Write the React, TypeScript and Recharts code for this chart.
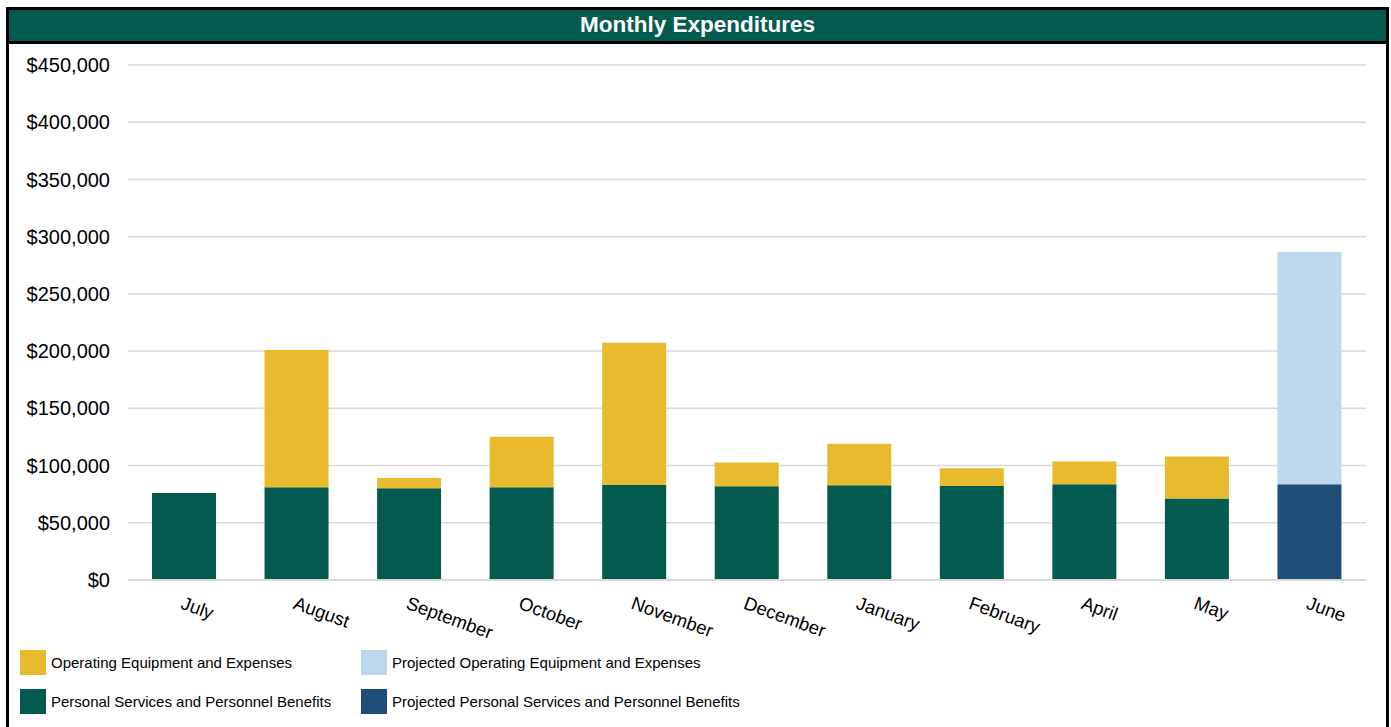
import { BarChart, Bar, XAxis, YAxis, CartesianGrid } from 'recharts';

const months = ['July', 'August', 'September', 'October', 'November', 'December', 'January', 'February', 'April', 'May', 'June'];
const personalServices = [76000, 81000, 80100, 81000, 83000, 81900, 82700, 82200, 83600, 71300, 0];
const operatingExpenses = [0, 119900, 9100, 44100, 124300, 20700, 36300, 15500, 19900, 36600, 0];
const projectedPersonal = [0, 0, 0, 0, 0, 0, 0, 0, 0, 0, 83600];
const projectedOperating = [0, 0, 0, 0, 0, 0, 0, 0, 0, 0, 203000];
const yTicks = [0, 50000, 100000, 150000, 200000, 250000, 300000, 350000, 400000, 450000];

const colors = {
  green: '#035B4F',
  gold: '#E8BA2E',
  lightBlue: '#BDD7EE',
  navy: '#1F4E79',
  grid: '#d9d9d9',
};

const series = [
  { key: 'personal', name: 'Personal Services and Personnel Benefits', color: colors.green },
  { key: 'operating', name: 'Operating Equipment and Expenses', color: colors.gold },
  { key: 'projPersonal', name: 'Projected Personal Services and Personnel Benefits', color: colors.navy },
  { key: 'projOperating', name: 'Projected Operating Equipment and Expenses', color: colors.lightBlue },
];

const chartData = months.map((month, i) => ({
  month,
  personal: personalServices[i],
  operating: operatingExpenses[i],
  projPersonal: projectedPersonal[i],
  projOperating: projectedOperating[i],
}));

const font = '"Liberation Sans", Arial, sans-serif';

const formatDollar = (v: number) => '$' + v.toLocaleString('en-US');

const MonthTick = ({ x, y, payload }: any) => (
  <g transform={`translate(${x},${y}) rotate(20)`}>
    <text x={0} y={0} dy={13} textAnchor="start" fill="#000" fontSize={18.5} fontFamily={font}>
      {payload.value}
    </text>
  </g>
);

// legend rows as laid out in the reference: 2 columns x 2 rows
const legendItems = [
  { s: series[1], left: 20, top: 650 },
  { s: series[3], left: 361, top: 650 },
  { s: series[0], left: 20, top: 689 },
  { s: series[2], left: 361, top: 689 },
];

const App = () => {
  return (
    <div style={{ position: 'absolute', left: 0, top: 0, width: 1391, height: 727, overflow: 'hidden', background: '#fff', fontFamily: font }}>
      <div
        style={{
          position: 'absolute',
          left: 6,
          top: 7,
          width: 1383,
          height: 760,
          border: '3px solid #000',
          boxSizing: 'border-box',
        }}
      >
        <div
          style={{
            height: 31,
            background: colors.green,
            borderBottom: '3px solid #000',
            color: '#fff',
            fontWeight: 'bold',
            fontSize: 22.5,
            lineHeight: '29px',
            textAlign: 'center',
          }}
        >
          Monthly Expenditures
        </div>
      </div>

      <div style={{ position: 'absolute', left: 0, top: 0 }}>
        <BarChart width={1391} height={660} data={chartData} margin={{ top: 65, right: 25, left: 0, bottom: 0 }} barSize={64}>
          <CartesianGrid vertical={false} stroke={colors.grid} strokeWidth={1.5} />
          <XAxis
            dataKey="month"
            height={80}
            axisLine={{ stroke: colors.grid, strokeWidth: 2 }}
            tickLine={false}
            tickSize={0}
            tickMargin={16}
            interval={0}
            tick={<MonthTick />}
          />
          <YAxis
            width={128}
            domain={[0, 450000]}
            ticks={yTicks}
            tickFormatter={formatDollar}
            axisLine={false}
            tickLine={false}
            tickSize={0}
            tickMargin={18}
            tick={{ fill: '#000', fontSize: 20, fontFamily: font }}
          />
          {series.map((s) => (
            <Bar key={s.key} dataKey={s.key} name={s.name} stackId="a" fill={s.color} isAnimationActive={false} />
          ))}
        </BarChart>
      </div>

      {legendItems.map(({ s, left, top }) => (
        <div key={s.key} style={{ position: 'absolute', left, top, display: 'flex', alignItems: 'center', height: 25 }}>
          <div style={{ width: 26, height: 25, background: s.color }} />
          <span style={{ marginLeft: 5, fontSize: 15, color: '#000', whiteSpace: 'nowrap' }}>{s.name}</span>
        </div>
      ))}
    </div>
  );
};

export default App;
